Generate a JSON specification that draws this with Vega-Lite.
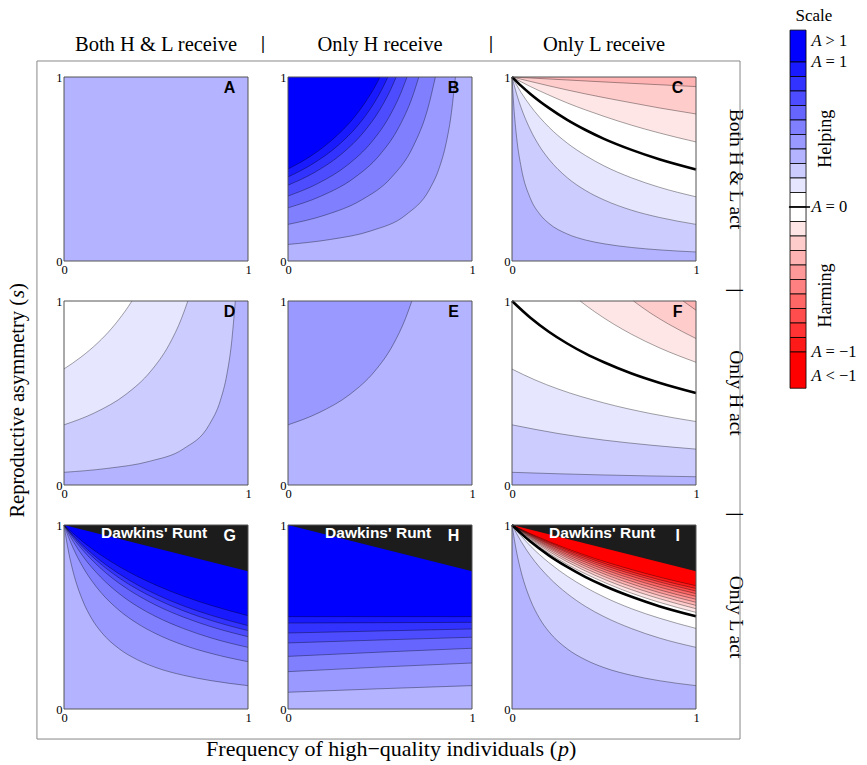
{
  "$schema": "https://vega.github.io/schema/vega-lite/v6.json",
  "background": "white",
  "padding": {"left": 8, "top": 7, "right": 5, "bottom": 5},
  "data": {"values": [
    {"pn":"A","k":"lab"},{"pn":"B","k":"lab"},{"pn":"C","k":"lab"},{"pn":"D","k":"lab"},{"pn":"E","k":"lab"},{"pn":"F","k":"lab"},{"pn":"G","k":"lab"},{"pn":"H","k":"lab"},{"pn":"I","k":"lab"},

    {"pn":"B","c":"B7","l":"p4","p":0,"s":0.09},{"pn":"B","c":"B7","l":"p4","p":0.23,"s":0.117},{"pn":"B","c":"B7","l":"p4","p":0.455,"s":0.165},{"pn":"B","c":"B7","l":"p4","p":0.64,"s":0.25},{"pn":"B","c":"B7","l":"p4","p":0.77,"s":0.391},{"pn":"B","c":"B7","l":"p4","p":0.82,"s":0.5},{"pn":"B","c":"B7","l":"p4","p":0.86,"s":0.643},{"pn":"B","c":"B7","l":"p4","p":0.885,"s":0.783},{"pn":"B","c":"B7","l":"p4","p":0.91,"s":1},
    {"pn":"B","c":"B6","l":"p5","p":0,"s":0.199},{"pn":"B","c":"B6","l":"p5","p":0.2,"s":0.249},{"pn":"B","c":"B6","l":"p5","p":0.4,"s":0.332},{"pn":"B","c":"B6","l":"p5","p":0.56,"s":0.452},{"pn":"B","c":"B6","l":"p5","p":0.68,"s":0.622},{"pn":"B","c":"B6","l":"p5","p":0.76,"s":0.829},{"pn":"B","c":"B6","l":"p5","p":0.801,"s":1},
    {"pn":"B","c":"B5","l":"p6","p":0,"s":0.289},{"pn":"B","c":"B5","l":"p6","p":0.178,"s":0.352},{"pn":"B","c":"B5","l":"p6","p":0.356,"s":0.449},{"pn":"B","c":"B5","l":"p6","p":0.498,"s":0.576},{"pn":"B","c":"B5","l":"p6","p":0.604,"s":0.73},{"pn":"B","c":"B5","l":"p6","p":0.675,"s":0.889},{"pn":"B","c":"B5","l":"p6","p":0.711,"s":1},
    {"pn":"B","c":"B4","l":"p7","p":0,"s":0.353},{"pn":"B","c":"B4","l":"p7","p":0.162,"s":0.421},{"pn":"B","c":"B4","l":"p7","p":0.324,"s":0.522},{"pn":"B","c":"B4","l":"p7","p":0.453,"s":0.645},{"pn":"B","c":"B4","l":"p7","p":0.55,"s":0.784},{"pn":"B","c":"B4","l":"p7","p":0.615,"s":0.917},{"pn":"B","c":"B4","l":"p7","p":0.647,"s":1},
    {"pn":"B","c":"B3","l":"p8","p":0,"s":0.412},{"pn":"B","c":"B3","l":"p8","p":0.147,"s":0.483},{"pn":"B","c":"B3","l":"p8","p":0.294,"s":0.584},{"pn":"B","c":"B3","l":"p8","p":0.412,"s":0.701},{"pn":"B","c":"B3","l":"p8","p":0.5,"s":0.824},{"pn":"B","c":"B3","l":"p8","p":0.559,"s":0.934},{"pn":"B","c":"B3","l":"p8","p":0.588,"s":1},
    {"pn":"B","c":"B2","l":"p9","p":0,"s":0.457},{"pn":"B","c":"B2","l":"p9","p":0.136,"s":0.529},{"pn":"B","c":"B2","l":"p9","p":0.272,"s":0.628},{"pn":"B","c":"B2","l":"p9","p":0.38,"s":0.737},{"pn":"B","c":"B2","l":"p9","p":0.462,"s":0.849},{"pn":"B","c":"B2","l":"p9","p":0.516,"s":0.944},{"pn":"B","c":"B2","l":"p9","p":0.543,"s":1},
    {"pn":"B","c":"B1","l":"p10","p":0,"s":0.5},{"pn":"B","c":"B1","l":"p10","p":0.125,"s":0.571},{"pn":"B","c":"B1","l":"p10","p":0.25,"s":0.667},{"pn":"B","c":"B1","l":"p10","p":0.35,"s":0.769},{"pn":"B","c":"B1","l":"p10","p":0.425,"s":0.87},{"pn":"B","c":"B1","l":"p10","p":0.475,"s":0.952},{"pn":"B","c":"B1","l":"p10","p":0.5,"s":1},

    {"pn":"C","c":"C1","l":"p2","p":0,"s":1},{"pn":"C","c":"C1","l":"p2","p":0.01,"s":0.838},{"pn":"C","c":"C1","l":"p2","p":0.025,"s":0.673},{"pn":"C","c":"C1","l":"p2","p":0.05,"s":0.508},{"pn":"C","c":"C1","l":"p2","p":0.1,"s":0.34},{"pn":"C","c":"C1","l":"p2","p":0.15,"s":0.256},{"pn":"C","c":"C1","l":"p2","p":0.2,"s":0.205},{"pn":"C","c":"C1","l":"p2","p":0.3,"s":0.147},{"pn":"C","c":"C1","l":"p2","p":0.4,"s":0.114},{"pn":"C","c":"C1","l":"p2","p":0.5,"s":0.0935},{"pn":"C","c":"C1","l":"p2","p":0.65,"s":0.0735},{"pn":"C","c":"C1","l":"p2","p":0.8,"s":0.0605},{"pn":"C","c":"C1","l":"p2","p":1,"s":0.049},
    {"pn":"C","c":"C2","l":"p1","p":0,"s":1},{"pn":"C","c":"C2","l":"p1","p":0.025,"s":0.908},{"pn":"C","c":"C2","l":"p1","p":0.05,"s":0.832},{"pn":"C","c":"C2","l":"p1","p":0.1,"s":0.713},{"pn":"C","c":"C2","l":"p1","p":0.15,"s":0.623},{"pn":"C","c":"C2","l":"p1","p":0.2,"s":0.554},{"pn":"C","c":"C2","l":"p1","p":0.3,"s":0.453},{"pn":"C","c":"C2","l":"p1","p":0.4,"s":0.383},{"pn":"C","c":"C2","l":"p1","p":0.5,"s":0.332},{"pn":"C","c":"C2","l":"p1","p":0.65,"s":0.276},{"pn":"C","c":"C2","l":"p1","p":0.8,"s":0.237},{"pn":"C","c":"C2","l":"p1","p":1,"s":0.199},
    {"pn":"C","c":"C3","l":"p0","p":0,"s":1},{"pn":"C","c":"C3","l":"p0","p":0.05,"s":0.915},{"pn":"C","c":"C3","l":"p0","p":0.1,"s":0.843},{"pn":"C","c":"C3","l":"p0","p":0.2,"s":0.728},{"pn":"C","c":"C3","l":"p0","p":0.3,"s":0.641},{"pn":"C","c":"C3","l":"p0","p":0.4,"s":0.573},{"pn":"C","c":"C3","l":"p0","p":0.5,"s":0.517},{"pn":"C","c":"C3","l":"p0","p":0.65,"s":0.452},{"pn":"C","c":"C3","l":"p0","p":0.8,"s":0.401},{"pn":"C","c":"C3","l":"p0","p":1,"s":0.349},
    {"pn":"C","c":"C4","l":"n0","p":0,"s":1},{"pn":"C","c":"C4","l":"n0","p":0.05,"s":0.952},{"pn":"C","c":"C4","l":"n0","p":0.1,"s":0.908},{"pn":"C","c":"C4","l":"n0","p":0.2,"s":0.832},{"pn":"C","c":"C4","l":"n0","p":0.3,"s":0.767},{"pn":"C","c":"C4","l":"n0","p":0.4,"s":0.712},{"pn":"C","c":"C4","l":"n0","p":0.5,"s":0.664},{"pn":"C","c":"C4","l":"n0","p":0.65,"s":0.604},{"pn":"C","c":"C4","l":"n0","p":0.8,"s":0.553},{"pn":"C","c":"C4","l":"n0","p":1,"s":0.4975},
    {"pn":"C","c":"C5","l":"n1","p":0,"s":1},{"pn":"C","c":"C5","l":"n1","p":0.1,"s":0.948},{"pn":"C","c":"C5","l":"n1","p":0.2,"s":0.902},{"pn":"C","c":"C5","l":"n1","p":0.3,"s":0.859},{"pn":"C","c":"C5","l":"n1","p":0.4,"s":0.821},{"pn":"C","c":"C5","l":"n1","p":0.5,"s":0.786},{"pn":"C","c":"C5","l":"n1","p":0.65,"s":0.738},{"pn":"C","c":"C5","l":"n1","p":0.8,"s":0.696},{"pn":"C","c":"C5","l":"n1","p":1,"s":0.647},
    {"pn":"C","c":"C6","l":"n2","p":0,"s":1},{"pn":"C","c":"C6","l":"n2","p":0.2,"s":0.952},{"pn":"C","c":"C6","l":"n2","p":0.4,"s":0.908},{"pn":"C","c":"C6","l":"n2","p":0.6,"s":0.869},{"pn":"C","c":"C6","l":"n2","p":0.8,"s":0.832},{"pn":"C","c":"C6","l":"n2","p":1,"s":0.799},
    {"pn":"C","c":"C7","l":"n3","p":0,"s":1},{"pn":"C","c":"C7","l":"n3","p":0.5,"s":0.973},{"pn":"C","c":"C7","l":"n3","p":1,"s":0.948},

    {"pn":"D","c":"D3","l":"p2","p":0,"s":0.069},{"pn":"D","c":"D3","l":"p2","p":0.233,"s":0.09},{"pn":"D","c":"D3","l":"p2","p":0.466,"s":0.129},{"pn":"D","c":"D3","l":"p2","p":0.65,"s":0.197},{"pn":"D","c":"D3","l":"p2","p":0.79,"s":0.329},{"pn":"D","c":"D3","l":"p2","p":0.85,"s":0.46},{"pn":"D","c":"D3","l":"p2","p":0.885,"s":0.6},{"pn":"D","c":"D3","l":"p2","p":0.91,"s":0.767},{"pn":"D","c":"D3","l":"p2","p":0.931,"s":1},
    {"pn":"D","c":"D2","l":"p1","p":0,"s":0.327},{"pn":"D","c":"D2","l":"p1","p":0.168,"s":0.393},{"pn":"D","c":"D2","l":"p1","p":0.337,"s":0.493},{"pn":"D","c":"D2","l":"p1","p":0.471,"s":0.618},{"pn":"D","c":"D2","l":"p1","p":0.572,"s":0.764},{"pn":"D","c":"D2","l":"p1","p":0.639,"s":0.906},{"pn":"D","c":"D2","l":"p1","p":0.673,"s":1},
    {"pn":"D","c":"D1","l":"p0","p":0,"s":0.631},{"pn":"D","c":"D1","l":"p0","p":0.092,"s":0.695},{"pn":"D","c":"D1","l":"p0","p":0.185,"s":0.774},{"pn":"D","c":"D1","l":"p0","p":0.258,"s":0.85},{"pn":"D","c":"D1","l":"p0","p":0.314,"s":0.92},{"pn":"D","c":"D1","l":"p0","p":0.351,"s":0.972},{"pn":"D","c":"D1","l":"p0","p":0.369,"s":1},

    {"pn":"E","c":"E1","l":"p4","p":0,"s":0.327},{"pn":"E","c":"E1","l":"p4","p":0.168,"s":0.393},{"pn":"E","c":"E1","l":"p4","p":0.337,"s":0.493},{"pn":"E","c":"E1","l":"p4","p":0.471,"s":0.618},{"pn":"E","c":"E1","l":"p4","p":0.572,"s":0.764},{"pn":"E","c":"E1","l":"p4","p":0.639,"s":0.906},{"pn":"E","c":"E1","l":"p4","p":0.673,"s":1},

    {"pn":"F","c":"F1","l":"p2","p":0,"s":0.069},{"pn":"F","c":"F1","l":"p2","p":0.25,"s":0.061},{"pn":"F","c":"F1","l":"p2","p":0.5,"s":0.0545},{"pn":"F","c":"F1","l":"p2","p":0.75,"s":0.0493},{"pn":"F","c":"F1","l":"p2","p":1,"s":0.045},
    {"pn":"F","c":"F2","l":"p1","p":0,"s":0.327},{"pn":"F","c":"F2","l":"p1","p":0.25,"s":0.28},{"pn":"F","c":"F2","l":"p1","p":0.5,"s":0.244},{"pn":"F","c":"F2","l":"p1","p":0.75,"s":0.217},{"pn":"F","c":"F2","l":"p1","p":1,"s":0.195},
    {"pn":"F","c":"F3","l":"p0","p":0,"s":0.63},{"pn":"F","c":"F3","l":"p0","p":0.125,"s":0.571},{"pn":"F","c":"F3","l":"p0","p":0.25,"s":0.522},{"pn":"F","c":"F3","l":"p0","p":0.5,"s":0.446},{"pn":"F","c":"F3","l":"p0","p":0.75,"s":0.389},{"pn":"F","c":"F3","l":"p0","p":1,"s":0.345},
    {"pn":"F","c":"F4","l":"n0","p":0,"s":1},{"pn":"F","c":"F4","l":"n0","p":0.1,"s":0.909},{"pn":"F","c":"F4","l":"n0","p":0.2,"s":0.833},{"pn":"F","c":"F4","l":"n0","p":0.3,"s":0.769},{"pn":"F","c":"F4","l":"n0","p":0.4,"s":0.714},{"pn":"F","c":"F4","l":"n0","p":0.5,"s":0.667},{"pn":"F","c":"F4","l":"n0","p":0.65,"s":0.606},{"pn":"F","c":"F4","l":"n0","p":0.8,"s":0.556},{"pn":"F","c":"F4","l":"n0","p":1,"s":0.5},
    {"pn":"F","c":"F5","l":"n1","p":0.37,"s":1},{"pn":"F","c":"F5","l":"n1","p":0.45,"s":0.941},{"pn":"F","c":"F5","l":"n1","p":0.55,"s":0.876},{"pn":"F","c":"F5","l":"n1","p":0.65,"s":0.819},{"pn":"F","c":"F5","l":"n1","p":0.8,"s":0.746},{"pn":"F","c":"F5","l":"n1","p":1,"s":0.667},
    {"pn":"F","c":"F6","l":"n2","p":0.66,"s":1},{"pn":"F","c":"F6","l":"n2","p":0.75,"s":0.936},{"pn":"F","c":"F6","l":"n2","p":0.85,"s":0.875},{"pn":"F","c":"F6","l":"n2","p":1,"s":0.796},
    {"pn":"F","c":"F7","l":"n3","p":0.93,"s":1},{"pn":"F","c":"F7","l":"n3","p":1,"s":0.95},

    {"pn":"G","c":"G1","l":"p4","p":0,"s":1},{"pn":"G","c":"G1","l":"p4","p":0.025,"s":0.853},{"pn":"G","c":"G1","l":"p4","p":0.05,"s":0.744},{"pn":"G","c":"G1","l":"p4","p":0.1,"s":0.593},{"pn":"G","c":"G1","l":"p4","p":0.15,"s":0.492},{"pn":"G","c":"G1","l":"p4","p":0.2,"s":0.421},{"pn":"G","c":"G1","l":"p4","p":0.3,"s":0.327},{"pn":"G","c":"G1","l":"p4","p":0.4,"s":0.267},{"pn":"G","c":"G1","l":"p4","p":0.5,"s":0.225},{"pn":"G","c":"G1","l":"p4","p":0.65,"s":0.183},{"pn":"G","c":"G1","l":"p4","p":0.8,"s":0.154},{"pn":"G","c":"G1","l":"p4","p":1,"s":0.127},
    {"pn":"G","c":"G2","l":"p5","p":0,"s":1},{"pn":"G","c":"G2","l":"p5","p":0.025,"s":0.933},{"pn":"G","c":"G2","l":"p5","p":0.05,"s":0.874},{"pn":"G","c":"G2","l":"p5","p":0.1,"s":0.776},{"pn":"G","c":"G2","l":"p5","p":0.15,"s":0.698},{"pn":"G","c":"G2","l":"p5","p":0.2,"s":0.634},{"pn":"G","c":"G2","l":"p5","p":0.3,"s":0.536},{"pn":"G","c":"G2","l":"p5","p":0.4,"s":0.464},{"pn":"G","c":"G2","l":"p5","p":0.5,"s":0.409},{"pn":"G","c":"G2","l":"p5","p":0.65,"s":0.347},{"pn":"G","c":"G2","l":"p5","p":0.8,"s":0.302},{"pn":"G","c":"G2","l":"p5","p":1,"s":0.257},
    {"pn":"G","c":"G3","l":"p6","p":0,"s":1},{"pn":"G","c":"G3","l":"p6","p":0.05,"s":0.91},{"pn":"G","c":"G3","l":"p6","p":0.1,"s":0.834},{"pn":"G","c":"G3","l":"p6","p":0.2,"s":0.716},{"pn":"G","c":"G3","l":"p6","p":0.3,"s":0.627},{"pn":"G","c":"G3","l":"p6","p":0.4,"s":0.557},{"pn":"G","c":"G3","l":"p6","p":0.5,"s":0.502},{"pn":"G","c":"G3","l":"p6","p":0.65,"s":0.437},{"pn":"G","c":"G3","l":"p6","p":0.8,"s":0.386},{"pn":"G","c":"G3","l":"p6","p":1,"s":0.335},
    {"pn":"G","c":"G4","l":"p7","p":0,"s":1},{"pn":"G","c":"G4","l":"p7","p":0.05,"s":0.928},{"pn":"G","c":"G4","l":"p7","p":0.1,"s":0.866},{"pn":"G","c":"G4","l":"p7","p":0.2,"s":0.764},{"pn":"G","c":"G4","l":"p7","p":0.3,"s":0.683},{"pn":"G","c":"G4","l":"p7","p":0.4,"s":0.618},{"pn":"G","c":"G4","l":"p7","p":0.5,"s":0.564},{"pn":"G","c":"G4","l":"p7","p":0.65,"s":0.499},{"pn":"G","c":"G4","l":"p7","p":0.8,"s":0.447},{"pn":"G","c":"G4","l":"p7","p":1,"s":0.393},
    {"pn":"G","c":"G5","l":"p8","p":0,"s":1},{"pn":"G","c":"G5","l":"p8","p":0.05,"s":0.937},{"pn":"G","c":"G5","l":"p8","p":0.1,"s":0.881},{"pn":"G","c":"G5","l":"p8","p":0.2,"s":0.788},{"pn":"G","c":"G5","l":"p8","p":0.3,"s":0.712},{"pn":"G","c":"G5","l":"p8","p":0.4,"s":0.65},{"pn":"G","c":"G5","l":"p8","p":0.5,"s":0.598},{"pn":"G","c":"G5","l":"p8","p":0.65,"s":0.533},{"pn":"G","c":"G5","l":"p8","p":0.8,"s":0.481},{"pn":"G","c":"G5","l":"p8","p":1,"s":0.426},
    {"pn":"G","c":"G6","l":"p9","p":0,"s":1},{"pn":"G","c":"G6","l":"p9","p":0.05,"s":0.943},{"pn":"G","c":"G6","l":"p9","p":0.1,"s":0.892},{"pn":"G","c":"G6","l":"p9","p":0.2,"s":0.805},{"pn":"G","c":"G6","l":"p9","p":0.3,"s":0.734},{"pn":"G","c":"G6","l":"p9","p":0.4,"s":0.674},{"pn":"G","c":"G6","l":"p9","p":0.5,"s":0.623},{"pn":"G","c":"G6","l":"p9","p":0.65,"s":0.56},{"pn":"G","c":"G6","l":"p9","p":0.8,"s":0.509},{"pn":"G","c":"G6","l":"p9","p":1,"s":0.453},
    {"pn":"G","c":"G7","l":"p10","p":0,"s":1},{"pn":"G","c":"G7","l":"p10","p":0.05,"s":0.954},{"pn":"G","c":"G7","l":"p10","p":0.1,"s":0.911},{"pn":"G","c":"G7","l":"p10","p":0.2,"s":0.837},{"pn":"G","c":"G7","l":"p10","p":0.3,"s":0.774},{"pn":"G","c":"G7","l":"p10","p":0.4,"s":0.72},{"pn":"G","c":"G7","l":"p10","p":0.5,"s":0.673},{"pn":"G","c":"G7","l":"p10","p":0.65,"s":0.613},{"pn":"G","c":"G7","l":"p10","p":0.8,"s":0.563},{"pn":"G","c":"G7","l":"p10","p":1,"s":0.507},
    {"pn":"G","c":"GR","l":"runt","p":0,"s":1},{"pn":"G","c":"GR","l":"runt","p":1,"s":0.748},

    {"pn":"H","c":"H1","l":"p4","p":0,"s":0.091},{"pn":"H","c":"H1","l":"p4","p":0.5,"s":0.11},{"pn":"H","c":"H1","l":"p4","p":1,"s":0.127},
    {"pn":"H","c":"H2","l":"p5","p":0,"s":0.203},{"pn":"H","c":"H2","l":"p5","p":0.5,"s":0.228},{"pn":"H","c":"H2","l":"p5","p":1,"s":0.25},
    {"pn":"H","c":"H3","l":"p6","p":0,"s":0.286},{"pn":"H","c":"H3","l":"p6","p":0.5,"s":0.309},{"pn":"H","c":"H3","l":"p6","p":1,"s":0.33},
    {"pn":"H","c":"H4","l":"p7","p":0,"s":0.359},{"pn":"H","c":"H4","l":"p7","p":0.5,"s":0.375},{"pn":"H","c":"H4","l":"p7","p":1,"s":0.39},
    {"pn":"H","c":"H5","l":"p8","p":0,"s":0.413},{"pn":"H","c":"H5","l":"p8","p":0.5,"s":0.424},{"pn":"H","c":"H5","l":"p8","p":1,"s":0.435},
    {"pn":"H","c":"H6","l":"p9","p":0,"s":0.467},{"pn":"H","c":"H6","l":"p9","p":0.5,"s":0.469},{"pn":"H","c":"H6","l":"p9","p":1,"s":0.471},
    {"pn":"H","c":"H7","l":"p10","p":0,"s":0.502},{"pn":"H","c":"H7","l":"p10","p":1,"s":0.502},
    {"pn":"H","c":"HR","l":"runt","p":0,"s":1},{"pn":"H","c":"HR","l":"runt","p":1,"s":0.748},

    {"pn":"I","c":"I1","l":"p2","p":0,"s":1},{"pn":"I","c":"I1","l":"p2","p":0.025,"s":0.853},{"pn":"I","c":"I1","l":"p2","p":0.05,"s":0.744},{"pn":"I","c":"I1","l":"p2","p":0.1,"s":0.593},{"pn":"I","c":"I1","l":"p2","p":0.15,"s":0.492},{"pn":"I","c":"I1","l":"p2","p":0.2,"s":0.421},{"pn":"I","c":"I1","l":"p2","p":0.3,"s":0.327},{"pn":"I","c":"I1","l":"p2","p":0.4,"s":0.267},{"pn":"I","c":"I1","l":"p2","p":0.5,"s":0.225},{"pn":"I","c":"I1","l":"p2","p":0.65,"s":0.183},{"pn":"I","c":"I1","l":"p2","p":0.8,"s":0.154},{"pn":"I","c":"I1","l":"p2","p":1,"s":0.127},
    {"pn":"I","c":"I2","l":"p1","p":0,"s":1},{"pn":"I","c":"I2","l":"p1","p":0.05,"s":0.91},{"pn":"I","c":"I2","l":"p1","p":0.1,"s":0.834},{"pn":"I","c":"I2","l":"p1","p":0.2,"s":0.716},{"pn":"I","c":"I2","l":"p1","p":0.3,"s":0.627},{"pn":"I","c":"I2","l":"p1","p":0.4,"s":0.557},{"pn":"I","c":"I2","l":"p1","p":0.5,"s":0.502},{"pn":"I","c":"I2","l":"p1","p":0.65,"s":0.437},{"pn":"I","c":"I2","l":"p1","p":0.8,"s":0.386},{"pn":"I","c":"I2","l":"p1","p":1,"s":0.335},
    {"pn":"I","c":"I3","l":"p0","p":0,"s":1},{"pn":"I","c":"I3","l":"p0","p":0.05,"s":0.94},{"pn":"I","c":"I3","l":"p0","p":0.1,"s":0.886},{"pn":"I","c":"I3","l":"p0","p":0.2,"s":0.796},{"pn":"I","c":"I3","l":"p0","p":0.3,"s":0.722},{"pn":"I","c":"I3","l":"p0","p":0.4,"s":0.661},{"pn":"I","c":"I3","l":"p0","p":0.5,"s":0.609},{"pn":"I","c":"I3","l":"p0","p":0.65,"s":0.545},{"pn":"I","c":"I3","l":"p0","p":0.8,"s":0.494},{"pn":"I","c":"I3","l":"p0","p":1,"s":0.438},
    {"pn":"I","c":"I4","l":"n0","p":0,"s":1},{"pn":"I","c":"I4","l":"n0","p":0.05,"s":0.953},{"pn":"I","c":"I4","l":"n0","p":0.1,"s":0.91},{"pn":"I","c":"I4","l":"n0","p":0.2,"s":0.835},{"pn":"I","c":"I4","l":"n0","p":0.3,"s":0.772},{"pn":"I","c":"I4","l":"n0","p":0.4,"s":0.717},{"pn":"I","c":"I4","l":"n0","p":0.5,"s":0.67},{"pn":"I","c":"I4","l":"n0","p":0.65,"s":0.61},{"pn":"I","c":"I4","l":"n0","p":0.8,"s":0.559},{"pn":"I","c":"I4","l":"n0","p":1,"s":0.504},
    {"pn":"I","c":"I5","l":"n1","p":0,"s":1},{"pn":"I","c":"I5","l":"n1","p":0.1,"s":0.917},{"pn":"I","c":"I5","l":"n1","p":0.2,"s":0.847},{"pn":"I","c":"I5","l":"n1","p":0.3,"s":0.786},{"pn":"I","c":"I5","l":"n1","p":0.45,"s":0.711},{"pn":"I","c":"I5","l":"n1","p":0.6,"s":0.648},{"pn":"I","c":"I5","l":"n1","p":0.8,"s":0.58},{"pn":"I","c":"I5","l":"n1","p":1,"s":0.525},
    {"pn":"I","c":"I6","l":"n2","p":0,"s":1},{"pn":"I","c":"I6","l":"n2","p":0.1,"s":0.923},{"pn":"I","c":"I6","l":"n2","p":0.2,"s":0.857},{"pn":"I","c":"I6","l":"n2","p":0.3,"s":0.8},{"pn":"I","c":"I6","l":"n2","p":0.45,"s":0.727},{"pn":"I","c":"I6","l":"n2","p":0.6,"s":0.666},{"pn":"I","c":"I6","l":"n2","p":0.8,"s":0.6},{"pn":"I","c":"I6","l":"n2","p":1,"s":0.545},
    {"pn":"I","c":"I7","l":"n3","p":0,"s":1},{"pn":"I","c":"I7","l":"n3","p":0.1,"s":0.928},{"pn":"I","c":"I7","l":"n3","p":0.2,"s":0.866},{"pn":"I","c":"I7","l":"n3","p":0.3,"s":0.811},{"pn":"I","c":"I7","l":"n3","p":0.45,"s":0.741},{"pn":"I","c":"I7","l":"n3","p":0.6,"s":0.682},{"pn":"I","c":"I7","l":"n3","p":0.8,"s":0.617},{"pn":"I","c":"I7","l":"n3","p":1,"s":0.563},
    {"pn":"I","c":"I8","l":"n4","p":0,"s":1},{"pn":"I","c":"I8","l":"n4","p":0.1,"s":0.932},{"pn":"I","c":"I8","l":"n4","p":0.2,"s":0.874},{"pn":"I","c":"I8","l":"n4","p":0.3,"s":0.822},{"pn":"I","c":"I8","l":"n4","p":0.45,"s":0.754},{"pn":"I","c":"I8","l":"n4","p":0.6,"s":0.697},{"pn":"I","c":"I8","l":"n4","p":0.8,"s":0.633},{"pn":"I","c":"I8","l":"n4","p":1,"s":0.58},
    {"pn":"I","c":"I9","l":"n5","p":0,"s":1},{"pn":"I","c":"I9","l":"n5","p":0.1,"s":0.937},{"pn":"I","c":"I9","l":"n5","p":0.2,"s":0.881},{"pn":"I","c":"I9","l":"n5","p":0.3,"s":0.831},{"pn":"I","c":"I9","l":"n5","p":0.45,"s":0.766},{"pn":"I","c":"I9","l":"n5","p":0.6,"s":0.711},{"pn":"I","c":"I9","l":"n5","p":0.8,"s":0.648},{"pn":"I","c":"I9","l":"n5","p":1,"s":0.596},
    {"pn":"I","c":"I10","l":"n6","p":0,"s":1},{"pn":"I","c":"I10","l":"n6","p":0.1,"s":0.94},{"pn":"I","c":"I10","l":"n6","p":0.2,"s":0.887},{"pn":"I","c":"I10","l":"n6","p":0.3,"s":0.84},{"pn":"I","c":"I10","l":"n6","p":0.45,"s":0.778},{"pn":"I","c":"I10","l":"n6","p":0.6,"s":0.724},{"pn":"I","c":"I10","l":"n6","p":0.8,"s":0.663},{"pn":"I","c":"I10","l":"n6","p":1,"s":0.612},
    {"pn":"I","c":"I11","l":"n7","p":0,"s":1},{"pn":"I","c":"I11","l":"n7","p":0.1,"s":0.944},{"pn":"I","c":"I11","l":"n7","p":0.2,"s":0.894},{"pn":"I","c":"I11","l":"n7","p":0.3,"s":0.849},{"pn":"I","c":"I11","l":"n7","p":0.45,"s":0.789},{"pn":"I","c":"I11","l":"n7","p":0.6,"s":0.737},{"pn":"I","c":"I11","l":"n7","p":0.8,"s":0.678},{"pn":"I","c":"I11","l":"n7","p":1,"s":0.627},
    {"pn":"I","c":"I12","l":"n8","p":0,"s":1},{"pn":"I","c":"I12","l":"n8","p":0.1,"s":0.947},{"pn":"I","c":"I12","l":"n8","p":0.2,"s":0.899},{"pn":"I","c":"I12","l":"n8","p":0.3,"s":0.856},{"pn":"I","c":"I12","l":"n8","p":0.45,"s":0.799},{"pn":"I","c":"I12","l":"n8","p":0.6,"s":0.749},{"pn":"I","c":"I12","l":"n8","p":0.8,"s":0.691},{"pn":"I","c":"I12","l":"n8","p":1,"s":0.641},
    {"pn":"I","c":"I13","l":"n9","p":0,"s":1},{"pn":"I","c":"I13","l":"n9","p":0.1,"s":0.95},{"pn":"I","c":"I13","l":"n9","p":0.2,"s":0.905},{"pn":"I","c":"I13","l":"n9","p":0.3,"s":0.864},{"pn":"I","c":"I13","l":"n9","p":0.45,"s":0.809},{"pn":"I","c":"I13","l":"n9","p":0.6,"s":0.76},{"pn":"I","c":"I13","l":"n9","p":0.8,"s":0.703},{"pn":"I","c":"I13","l":"n9","p":1,"s":0.655},
    {"pn":"I","c":"I14","l":"n10","p":0,"s":1},{"pn":"I","c":"I14","l":"n10","p":0.1,"s":0.953},{"pn":"I","c":"I14","l":"n10","p":0.2,"s":0.91},{"pn":"I","c":"I14","l":"n10","p":0.3,"s":0.871},{"pn":"I","c":"I14","l":"n10","p":0.45,"s":0.818},{"pn":"I","c":"I14","l":"n10","p":0.6,"s":0.772},{"pn":"I","c":"I14","l":"n10","p":0.8,"s":0.717},{"pn":"I","c":"I14","l":"n10","p":1,"s":0.67},
    {"pn":"I","c":"IR","l":"runt","p":0,"s":1},{"pn":"I","c":"IR","l":"runt","p":1,"s":0.748},

    {"pn":"C","k":"leg","l":"p10","lo":1,"hi":1.22},{"pn":"C","k":"leg","l":"p9","lo":0.9,"hi":1},{"pn":"C","k":"leg","l":"p8","lo":0.8,"hi":0.9},{"pn":"C","k":"leg","l":"p7","lo":0.7,"hi":0.8},{"pn":"C","k":"leg","l":"p6","lo":0.6,"hi":0.7},{"pn":"C","k":"leg","l":"p5","lo":0.5,"hi":0.6},{"pn":"C","k":"leg","l":"p4","lo":0.4,"hi":0.5},{"pn":"C","k":"leg","l":"p3","lo":0.3,"hi":0.4},{"pn":"C","k":"leg","l":"p2","lo":0.2,"hi":0.3},{"pn":"C","k":"leg","l":"p1","lo":0.1,"hi":0.2},{"pn":"C","k":"leg","l":"p0","lo":0,"hi":0.1},
    {"pn":"C","k":"leg","l":"n0","lo":-0.1,"hi":0},{"pn":"C","k":"leg","l":"n1","lo":-0.2,"hi":-0.1},{"pn":"C","k":"leg","l":"n2","lo":-0.3,"hi":-0.2},{"pn":"C","k":"leg","l":"n3","lo":-0.4,"hi":-0.3},{"pn":"C","k":"leg","l":"n4","lo":-0.5,"hi":-0.4},{"pn":"C","k":"leg","l":"n5","lo":-0.6,"hi":-0.5},{"pn":"C","k":"leg","l":"n6","lo":-0.7,"hi":-0.6},{"pn":"C","k":"leg","l":"n7","lo":-0.8,"hi":-0.7},{"pn":"C","k":"leg","l":"n8","lo":-0.9,"hi":-0.8},{"pn":"C","k":"leg","l":"n9","lo":-1,"hi":-0.9},{"pn":"C","k":"leg","l":"n10","lo":-1.25,"hi":-1},
    {"pn":"C","k":"legl","a":1.145,"t":"> 1"},{"pn":"C","k":"legl","a":1,"t":"= 1"},{"pn":"C","k":"legl","a":0,"t":"= 0"},{"pn":"C","k":"legl","a":-1,"t":"= −1"},{"pn":"C","k":"legl","a":-1.166,"t":"< −1"},
    {"pn":"C","k":"legt","a":0},
    {"pn":"C","k":"legw","a":0.47,"t":"Helping"},{"pn":"C","k":"legw","a":-0.61,"t":"Harming"},
    {"pn":"C","k":"legs","a":1.317,"t":"Scale"}
  ]},
  "transform": [
    {"lookup": "pn", "from": {"data": {"values": [
      {"pn":"A","rc":"Both H & L receive","ac":"Both H & L act"},
      {"pn":"B","rc":"Only H receive","ac":"Both H & L act"},
      {"pn":"C","rc":"Only L receive","ac":"Both H & L act"},
      {"pn":"D","rc":"Both H & L receive","ac":"Only H act"},
      {"pn":"E","rc":"Only H receive","ac":"Only H act"},
      {"pn":"F","rc":"Only L receive","ac":"Only H act"},
      {"pn":"G","rc":"Both H & L receive","ac":"Only L act"},
      {"pn":"H","rc":"Only H receive","ac":"Only L act"},
      {"pn":"I","rc":"Only L receive","ac":"Only L act"}
    ]}, "key": "pn", "fields": ["rc", "ac"]}}
  ],
  "facet": {
    "column": {
      "field": "rc", "type": "nominal",
      "sort": ["Both H & L receive", "Only H receive", "Only L receive"],
      "title": null,
      "header": {"labelOrient": "top", "labelPadding": 22, "labelFontSize": 20.5}
    },
    "row": {
      "field": "ac", "type": "nominal",
      "sort": ["Both H & L act", "Only H act", "Only L act"],
      "title": null,
      "header": {"labelOrient": "right", "labelAngle": 90, "labelPadding": 29, "labelFontSize": 19.5}
    }
  },
  "spacing": {"row": 40, "column": 40},
  "bounds": "flush",
  "resolve": {"axis": {"x": "independent", "y": "independent"}},
  "spec": {
    "width": 184,
    "height": 184,
    "layer": [
      {
        "layer": [
          {
            "transform": [{"filter": "datum.c"}],
            "mark": {"type": "area", "interpolate": "monotone"},
            "encoding": {
              "x": {"field": "p", "type": "quantitative", "scale": {"domain": [0, 1], "nice": false}, "axis": {"values": [0, 1], "format": "d", "title": null}},
              "y": {"field": "s", "type": "quantitative", "scale": {"domain": [0, 1], "nice": false}, "axis": {"values": [0, 1], "format": "d", "title": null}, "stack": null},
              "y2": {"datum": 1},
              "color": {
                "field": "l", "type": "nominal", "legend": null,
                "scale": {
                  "domain": ["p10","p9","p8","p7","p6","p5","p4","p3","p2","p1","p0","n0","n1","n2","n3","n4","n5","n6","n7","n8","n9","n10","runt"],
                  "range": ["#0000ff","#1a1aff","#3333ff","#4d4dff","#6666ff","#8080ff","#9999ff","#b3b3ff","#ccccff","#e6e6ff","#ffffff","#ffffff","#ffe6e6","#ffcccc","#ffb3b3","#ff9999","#ff8080","#ff6666","#ff4d4d","#ff3333","#ff1a1a","#ff0000","#1c1c1c"]
                }
              },
              "detail": {"field": "c"}
            }
          },
          {
            "transform": [{"filter": "datum.c && datum.l != 'runt' && datum.l != 'n0'"}],
            "mark": {"type": "line", "interpolate": "monotone", "stroke": "black", "strokeWidth": 0.8, "opacity": 0.45},
            "encoding": {
              "x": {"field": "p", "type": "quantitative"},
              "y": {"field": "s", "type": "quantitative"},
              "detail": {"field": "c"}
            }
          },
          {
            "transform": [{"filter": "datum.l == 'n0' && datum.c"}],
            "mark": {"type": "line", "interpolate": "monotone", "stroke": "black", "strokeWidth": 2.6},
            "encoding": {
              "x": {"field": "p", "type": "quantitative"},
              "y": {"field": "s", "type": "quantitative"},
              "detail": {"field": "c"}
            }
          },
          {
            "transform": [{"filter": "datum.k == 'lab'"}],
            "mark": {"type": "rect", "filled": false, "stroke": "#555555", "strokeWidth": 1},
            "encoding": {"x": {"datum": 0}, "x2": {"datum": 1}, "y": {"datum": 0}, "y2": {"datum": 1}}
          },
          {
            "transform": [{"filter": "datum.k == 'lab'"}],
            "mark": {"type": "text", "font": "Liberation Sans", "fontWeight": "bold", "fontSize": 16},
            "encoding": {
              "x": {"datum": 0.9}, "y": {"datum": 0.94},
              "text": {"field": "pn"},
              "color": {"condition": {"test": "indexof(['G','H','I'], datum.pn) >= 0", "value": "white"}, "value": "black"}
            }
          },
          {
            "transform": [{"filter": "datum.k == 'lab' && indexof(['G','H','I'], datum.pn) >= 0"}],
            "mark": {"type": "text", "font": "Liberation Sans", "fontWeight": "bold", "fontSize": 15.5, "color": "white"},
            "encoding": {"x": {"datum": 0.49}, "y": {"datum": 0.955}, "text": {"value": "Dawkins' Runt"}}
          },
          {
            "transform": [{"filter": "datum.k == 'lab' && datum.pn == 'A'"}],
            "mark": {"type": "text", "font": "Liberation Serif", "fontWeight": "bold", "fontSize": 18, "fill": "black"},
            "encoding": {"x": {"datum": 1.082}, "y": {"datum": 1.179}, "text": {"value": "|"}}
          },
          {
            "transform": [{"filter": "datum.k == 'lab' && datum.pn == 'B'"}],
            "mark": {"type": "text", "font": "Liberation Serif", "fontWeight": "bold", "fontSize": 18, "fill": "black"},
            "encoding": {"x": {"datum": 1.103}, "y": {"datum": 1.179}, "text": {"value": "|"}}
          },
          {
            "transform": [{"filter": "datum.k == 'lab' && (datum.pn == 'C' || datum.pn == 'F')"}],
            "mark": {"type": "text", "font": "Liberation Serif", "fontWeight": "bold", "fontSize": 18, "fill": "black", "angle": 90},
            "encoding": {"x": {"datum": 1.212}, "y": {"datum": -0.16}, "text": {"value": "|"}}
          },
          {
            "transform": [{"filter": "datum.k == 'lab' && datum.pn == 'A'"}],
            "mark": {"type": "rect", "filled": false, "stroke": "#888888", "strokeWidth": 1},
            "encoding": {"x": {"datum": -0.147}, "x2": {"datum": 3.674}, "y": {"datum": 1.087}, "y2": {"datum": -2.598}}
          },
          {
            "transform": [{"filter": "datum.k == 'lab' && datum.pn == 'H'"}],
            "mark": {"type": "text", "font": "Liberation Serif", "fontSize": 22, "align": "right", "fill": "black"},
            "encoding": {"x": {"datum": 1.462}, "y": {"datum": -0.217}, "text": {"value": "Frequency of high\u2212quality individuals ("}}
          },
          {
            "transform": [{"filter": "datum.k == 'lab' && datum.pn == 'H'"}],
            "mark": {"type": "text", "font": "Liberation Serif", "fontStyle": "italic", "fontSize": 22, "align": "left", "dx": 1, "fill": "black"},
            "encoding": {"x": {"datum": 1.462}, "y": {"datum": -0.217}, "text": {"value": "p"}}
          },
          {
            "transform": [{"filter": "datum.k == 'lab' && datum.pn == 'H'"}],
            "mark": {"type": "text", "font": "Liberation Serif", "fontSize": 22, "align": "left", "dx": 12, "fill": "black"},
            "encoding": {"x": {"datum": 1.462}, "y": {"datum": -0.217}, "text": {"value": ")"}}
          },
          {
            "transform": [{"filter": "datum.k == 'lab' && datum.pn == 'D'"}],
            "mark": {"type": "text", "font": "Liberation Serif", "fontSize": 20.5, "align": "right", "angle": 270, "fill": "black"},
            "encoding": {"x": {"datum": -0.25}, "y": {"datum": 1.011}, "text": {"value": "Reproductive asymmetry ("}}
          },
          {
            "transform": [{"filter": "datum.k == 'lab' && datum.pn == 'D'"}],
            "mark": {"type": "text", "font": "Liberation Serif", "fontStyle": "italic", "fontSize": 20.5, "align": "left", "angle": 270, "dx": 1, "fill": "black"},
            "encoding": {"x": {"datum": -0.25}, "y": {"datum": 1.011}, "text": {"value": "s"}}
          },
          {
            "transform": [{"filter": "datum.k == 'lab' && datum.pn == 'D'"}],
            "mark": {"type": "text", "font": "Liberation Serif", "fontSize": 20.5, "align": "left", "angle": 270, "dx": 9, "fill": "black"},
            "encoding": {"x": {"datum": -0.25}, "y": {"datum": 1.011}, "text": {"value": ")"}}
          }
        ]
      },
      {
        "layer": [
          {
            "transform": [{"filter": "datum.k == 'leg'"}],
            "mark": {"type": "rect", "stroke": "black", "strokeWidth": 0.8},
            "encoding": {
              "x": {"datum": 1.511}, "x2": {"datum": 1.598},
              "y": {"field": "lo", "type": "quantitative", "scale": {"domain": [-0.3724, 0.8966], "nice": false, "zero": false}, "axis": null},
              "y2": {"field": "hi"},
              "color": {"field": "l", "type": "nominal", "legend": null}
            }
          },
          {
            "transform": [{"filter": "datum.k == 'legt'"}],
            "mark": {"type": "rule", "stroke": "black", "strokeWidth": 1.6},
            "encoding": {"x": {"datum": 1.505}, "x2": {"datum": 1.62}, "y": {"field": "a", "type": "quantitative"}}
          },
          {
            "transform": [{"filter": "datum.k == 'legl'"}],
            "mark": {"type": "text", "font": "Liberation Serif", "fontStyle": "italic", "fontSize": 16.5, "align": "left", "fill": "black"},
            "encoding": {"x": {"datum": 1.628}, "y": {"field": "a", "type": "quantitative"}, "text": {"value": "A"}}
          },
          {
            "transform": [{"filter": "datum.k == 'legl'"}],
            "mark": {"type": "text", "font": "Liberation Serif", "fontSize": 16.5, "align": "left", "dx": 14, "fill": "black"},
            "encoding": {"x": {"datum": 1.628}, "y": {"field": "a", "type": "quantitative"}, "text": {"field": "t"}}
          },
          {
            "transform": [{"filter": "datum.k == 'legw'"}],
            "mark": {"type": "text", "font": "Liberation Serif", "fontSize": 18, "angle": 270, "fill": "black"},
            "encoding": {"x": {"datum": 1.707}, "y": {"field": "a", "type": "quantitative"}, "text": {"field": "t"}}
          },
          {
            "transform": [{"filter": "datum.k == 'legs'"}],
            "mark": {"type": "text", "font": "Liberation Serif", "fontSize": 17, "fill": "black"},
            "encoding": {"x": {"datum": 1.641}, "y": {"field": "a", "type": "quantitative"}, "text": {"field": "t"}}
          }
        ]
      }
    ],
    "resolve": {"scale": {"y": "independent"}}
  },
  "config": {
    "view": {"stroke": null, "fill": "#b3b3ff"},
    "axis": {"labelFont": "Liberation Serif", "labelFontSize": 12.5, "labelColor": "black", "ticks": false, "domain": false, "grid": false, "labelFlush": false, "labelPadding": 2},
    "header": {"labelFont": "Liberation Serif", "labelColor": "black"}
  }
}
